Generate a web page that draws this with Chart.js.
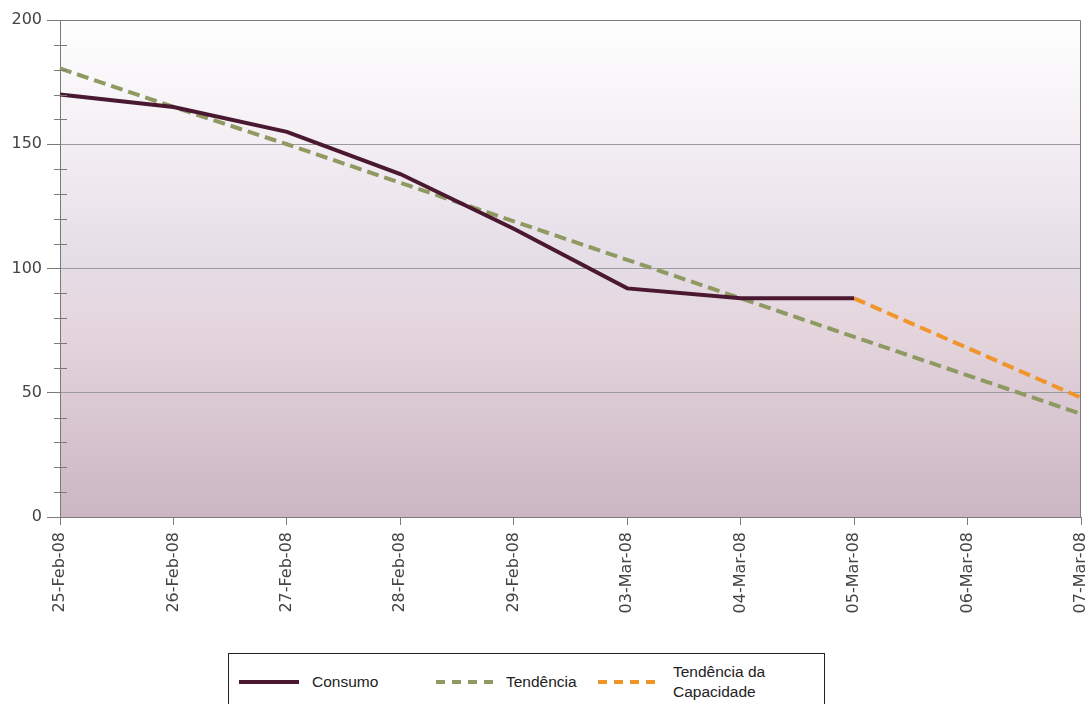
<!DOCTYPE html>
<html>
<head>
<meta charset="utf-8">
<script src="https://cdn.jsdelivr.net/npm/chart.js@4"></script>
<style>
  html, body { margin: 0; padding: 0; background: #fff; }
  #wrap { position: relative; width: 1089px; height: 704px; overflow: hidden; }
  #chart { position: absolute; left: 0; top: 0; }
  #legend {
    position: absolute; left: 228px; top: 653px; width: 597px; height: 70px;
    border: 1px solid #222; box-sizing: border-box; background: #fff;
  }
  .swatch { position: absolute; }
  .ltext {
    position: absolute; font-family: "Liberation Sans", Arial, sans-serif;
    font-size: 15.5px; line-height: 20px; color: #222; white-space: nowrap;
  }
</style>
</head>
<body>
<div id="wrap">
  <canvas id="chart" width="1089" height="704"></canvas>
  <div id="legend"></div>
</div>
<script>
  // categorias e séries
  const labels = ['25-Feb-08', '26-Feb-08', '27-Feb-08', '28-Feb-08', '29-Feb-08',
                  '03-Mar-08', '04-Mar-08', '05-Mar-08', '06-Mar-08', '07-Mar-08'];
  const consumo = [170, 165, 155, 138, 116, 92, 88, 88, null, null];
  const tendencia = [180.5, 165, 150, 134.5, 119, 103.5, 88, 72.5, 57, 41.5];
  const capacidade = [null, null, null, null, null, null, null, 88, 68, 48];
  const yTicks = [0, 50, 100, 150, 200];

  const seriesInfo = [
    { label: ['Consumo'], data: consumo, color: '#4a1830', dash: [] },
    { label: ['Tendência'], data: tendencia, color: '#8e9a62', dash: [12, 6] },
    { label: ['Tendência da', 'Capacidade'], data: capacidade, color: '#f0952c', dash: [12, 6] }
  ];

  // fundo em degradê da área do gráfico
  const backgroundPlugin = {
    id: 'areaBackground',
    beforeDraw(chart) {
      const { ctx, chartArea: a } = chart;
      const g = ctx.createLinearGradient(0, a.top, 0, a.bottom);
      g.addColorStop(0, '#ffffff');
      g.addColorStop(0.25, '#f3eef3');
      g.addColorStop(0.5, '#e4dce6');
      g.addColorStop(0.6, '#e6d7de');
      g.addColorStop(1, '#cbb6c4');
      ctx.save();
      ctx.fillStyle = g;
      ctx.fillRect(a.left, a.top, a.right - a.left, a.bottom - a.top);
      ctx.restore();
    },
    afterDraw(chart) {
      // borda e marcas menores do eixo y
      const { ctx, chartArea: a } = chart;
      const y = chart.scales.y;
      ctx.save();
      ctx.strokeStyle = '#7a7a7a';
      ctx.lineWidth = 1;
      ctx.beginPath();
      ctx.moveTo(a.left, a.top + 0.5);
      ctx.lineTo(a.right - 0.5, a.top + 0.5);
      ctx.lineTo(a.right - 0.5, a.bottom);
      y.ticks.forEach(t => {
        if (t.value % 50 !== 0) {
          const py = Math.round(y.getPixelForValue(t.value)) + 0.5;
          ctx.moveTo(a.left - 6, py);
          ctx.lineTo(a.left + 7, py);
        }
      });
      ctx.stroke();
      ctx.restore();
    }
  };

  const chart = new Chart(document.getElementById('chart'), {
    type: 'line',
    data: {
      labels: labels,
      datasets: seriesInfo.map(s => ({
        label: s.label.join(' '),
        data: s.data,
        borderColor: s.color,
        borderWidth: 4,
        borderDash: s.dash,
        pointRadius: 0,
        tension: 0,
        fill: false,
        spanGaps: false
      }))
    },
    options: {
      responsive: false,
      animation: false,
      layout: { padding: { top: 20, right: 8, left: 0, bottom: 0 } },
      plugins: {
        legend: { display: false },
        tooltip: { enabled: false }
      },
      scales: {
        x: {
          offset: false,
          afterFit(scale) {
            scale.height = 187;
            scale.paddingLeft = 0;
            scale.paddingRight = 0;
          },
          grid: {
            drawOnChartArea: false,
            color: '#7a7a7a',
            tickColor: '#7a7a7a',
            tickLength: 8
          },
          border: { color: '#7a7a7a' },
          ticks: {
            autoSkip: false,
            maxRotation: 90,
            minRotation: 90,
            padding: 7,
            color: '#444',
            font: { family: 'DejaVu Sans', size: 16 }
          }
        },
        y: {
          min: 0,
          max: 200,
          afterFit(scale) { scale.width = 60; },
          grid: {
            color: ctx => (ctx.tick && ctx.tick.value % 50 === 0 && ctx.tick.value !== 0 && ctx.tick.value !== 200) ? '#9a9a9a' : 'rgba(0,0,0,0)',
            tickColor: ctx => (ctx.tick && ctx.tick.value % 50 === 0) ? '#7a7a7a' : 'rgba(0,0,0,0)',
            tickLength: 13
          },
          border: { color: '#7a7a7a' },
          ticks: {
            stepSize: 10,
            padding: 5,
            color: '#444',
            font: { family: 'DejaVu Sans', size: 16 },
            callback: v => yTicks.includes(v) ? String(v) : ''
          }
        }
      }
    },
    plugins: [backgroundPlugin]
  });

  // legenda em HTML (posições relativas à caixa)
  const legendEl = document.getElementById('legend');
  const legendPos = [
    { x1: 10, x2: 70, tx: 83 },
    { x1: 207, x2: 269, tx: 277 },
    { x1: 369, x2: 432, tx: 444 }
  ];
  const midY = 28;
  seriesInfo.forEach((s, i) => {
    const p = legendPos[i];
    const w = p.x2 - p.x1;
    const svg = document.createElementNS('http://www.w3.org/2000/svg', 'svg');
    svg.setAttribute('class', 'swatch');
    svg.setAttribute('width', w);
    svg.setAttribute('height', 6);
    svg.style.left = p.x1 + 'px';
    svg.style.top = (midY - 3) + 'px';
    const ln = document.createElementNS('http://www.w3.org/2000/svg', 'line');
    ln.setAttribute('x1', 0); ln.setAttribute('y1', 3);
    ln.setAttribute('x2', w); ln.setAttribute('y2', 3);
    ln.setAttribute('stroke', s.color);
    ln.setAttribute('stroke-width', 4);
    if (s.dash.length) ln.setAttribute('stroke-dasharray', '9 7');
    svg.appendChild(ln);
    legendEl.appendChild(svg);

    const txt = document.createElement('div');
    txt.className = 'ltext';
    txt.innerHTML = s.label.join('<br>');
    txt.style.left = p.tx + 'px';
    txt.style.top = (midY - s.label.length * 10) + 'px';
    legendEl.appendChild(txt);
  });
</script>
</body>
</html>
